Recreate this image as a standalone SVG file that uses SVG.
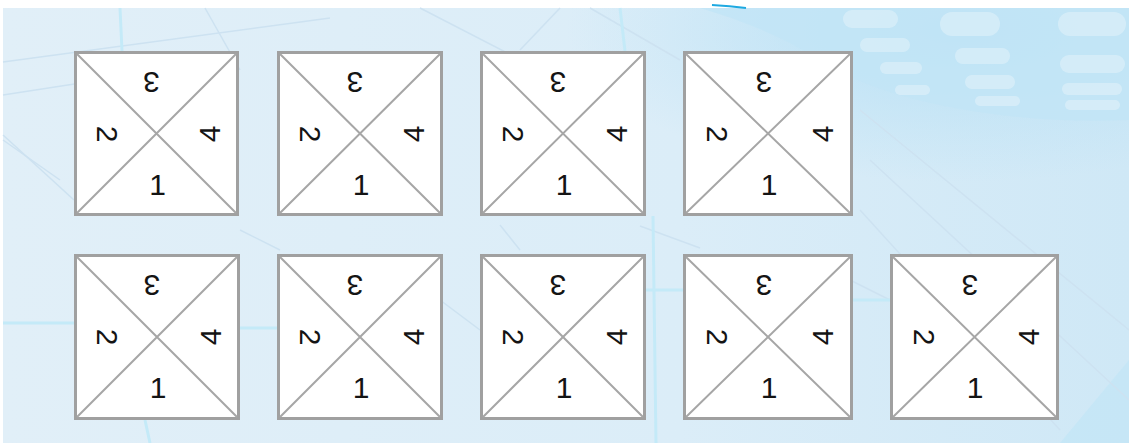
<svg xmlns="http://www.w3.org/2000/svg" width="1129" height="443" viewBox="0 0 1129 443">
  <defs>
    <linearGradient id="bg" x1="0" y1="0" x2="1" y2="0">
      <stop offset="0" stop-color="#e1eff8"/>
      <stop offset="0.6" stop-color="#dbedf8"/>
      <stop offset="1" stop-color="#cfe8f6"/>
    </linearGradient>
    <radialGradient id="glow" cx="0.85" cy="0.05" r="0.35">
      <stop offset="0" stop-color="#b9e1f5"/>
      <stop offset="1" stop-color="#b9e1f5" stop-opacity="0"/>
    </radialGradient>
    <style>
      .box{fill:#ffffff;stroke:#a0a0a0;stroke-width:3}
      .diag{stroke:#a6a6a6;stroke-width:2;fill:none}
      .num{font-family:"Liberation Sans",Arial,sans-serif;font-size:30px;fill:#141414;text-anchor:middle}
      .grid{stroke:#cde2f1;stroke-width:1.5;fill:none}
      .cyan{stroke:#c4eaf8;stroke-width:3;fill:none}
      .blob{fill:#ffffff;opacity:0.3}
    </style>
  </defs>

  <g id="background">
    <rect x="0" y="0" width="1129" height="443" fill="#ffffff"/>
    <rect x="3" y="8" width="1126" height="435" fill="url(#bg)"/>
    <rect x="3" y="8" width="1126" height="435" fill="url(#glow)"/>
    <path d="M700,8 L1129,8 L1129,120 C1000,125 880,100 820,60 C780,35 740,20 700,8 Z" fill="#c2e5f6" opacity="0.8"/>
    <path d="M1060,443 L1129,360 L1129,443 Z" fill="#c2e5f6" opacity="0.7"/>
    <g class="grid">
      <path d="M3,62 L330,18"/>
      <path d="M3,95 L230,60"/>
      <path d="M205,8 L240,70"/>
      <path d="M420,8 L560,80"/>
      <path d="M590,8 L680,60"/>
      <path d="M3,140 L60,180"/>
      <path d="M3,135 L74,200"/>
      <path d="M240,230 L280,250"/>
      <path d="M440,300 L480,330"/>
      <path d="M860,110 L1129,330"/>
      <path d="M870,160 L1129,400"/>
      <path d="M860,210 L1060,430"/>
      <path d="M640,226 L700,248"/>
      <path d="M850,280 L890,300"/>
      <path d="M500,225 L520,250"/>
      <path d="M560,8 L520,50"/>
    </g>
    <g class="cyan">
      <path d="M120,8 L122,51"/>
      <path d="M145,420 L150,443"/>
      <path d="M3,323 L74,323"/>
      <path d="M240,328 L277,328"/>
      <path d="M646,290 L683,290"/>
      <path d="M653,216 L656,443"/>
      <path d="M853,300 L890,300"/>
      <path d="M620,8 L625,51"/>
    </g>
    <g class="blob">
      <rect x="843" y="10" width="55" height="18" rx="9"/>
      <rect x="860" y="38" width="50" height="14" rx="7"/>
      <rect x="880" y="62" width="42" height="12" rx="6"/>
      <rect x="895" y="85" width="35" height="10" rx="5"/>
      <rect x="940" y="12" width="60" height="24" rx="12"/>
      <rect x="955" y="48" width="55" height="16" rx="8"/>
      <rect x="965" y="75" width="50" height="14" rx="7"/>
      <rect x="975" y="96" width="45" height="10" rx="5"/>
      <rect x="1058" y="12" width="68" height="24" rx="12"/>
      <rect x="1060" y="55" width="65" height="18" rx="9"/>
      <rect x="1062" y="83" width="60" height="12" rx="6"/>
      <rect x="1065" y="100" width="55" height="10" rx="5"/>
    </g>
    <path d="M712,5 Q730,6 746,8" stroke="#1ea9e1" stroke-width="2" fill="none"/>
  </g>

  <g id="connectors"></g>

  <g id="tile-1">
    <rect class="box" x="75.5" y="52.5" width="162" height="162"/>
    <path class="diag" d="M77,54 L236,213 M236,54 L77,213"/>
    <text class="num" transform="translate(151.5,83) rotate(180)" y="10.8">3</text>
    <text class="num" transform="translate(108,134) rotate(90)" y="10.8">2</text>
    <text class="num" transform="translate(209.5,134) rotate(-90)" y="10.8">4</text>
    <text class="num" x="157.5" y="195">1</text>
  </g>
  <g id="tile-2">
    <rect class="box" x="278.5" y="52.5" width="163" height="162"/>
    <path class="diag" d="M280,54 L440,213 M440,54 L280,213"/>
    <text class="num" transform="translate(355,83) rotate(180)" y="10.8">3</text>
    <text class="num" transform="translate(311,134) rotate(90)" y="10.8">2</text>
    <text class="num" transform="translate(413,134) rotate(-90)" y="10.8">4</text>
    <text class="num" x="361" y="195">1</text>
  </g>
  <g id="tile-3">
    <rect class="box" x="481.5" y="52.5" width="163" height="162"/>
    <path class="diag" d="M483,54 L643,213 M643,54 L483,213"/>
    <text class="num" transform="translate(558,83) rotate(180)" y="10.8">3</text>
    <text class="num" transform="translate(514,134) rotate(90)" y="10.8">2</text>
    <text class="num" transform="translate(616,134) rotate(-90)" y="10.8">4</text>
    <text class="num" x="564" y="195">1</text>
  </g>
  <g id="tile-4">
    <rect class="box" x="684.5" y="52.5" width="167" height="162"/>
    <path class="diag" d="M686,54 L850,213 M850,54 L686,213"/>
    <text class="num" transform="translate(764,83) rotate(180)" y="10.8">3</text>
    <text class="num" transform="translate(717.5,134) rotate(90)" y="10.8">2</text>
    <text class="num" transform="translate(822,134) rotate(-90)" y="10.8">4</text>
    <text class="num" x="769" y="195">1</text>
  </g>

  <g id="tile-5">
    <rect class="box" x="75.5" y="255.5" width="163" height="163"/>
    <path class="diag" d="M77,257 L237,417 M237,257 L77,417"/>
    <text class="num" transform="translate(152,286) rotate(180)" y="10.8">3</text>
    <text class="num" transform="translate(108,337) rotate(90)" y="10.8">2</text>
    <text class="num" transform="translate(210,337) rotate(-90)" y="10.8">4</text>
    <text class="num" x="158" y="398">1</text>
  </g>
  <g id="tile-6">
    <rect class="box" x="278.5" y="255.5" width="163" height="163"/>
    <path class="diag" d="M280,257 L440,417 M440,257 L280,417"/>
    <text class="num" transform="translate(355,286) rotate(180)" y="10.8">3</text>
    <text class="num" transform="translate(311,337) rotate(90)" y="10.8">2</text>
    <text class="num" transform="translate(413,337) rotate(-90)" y="10.8">4</text>
    <text class="num" x="361" y="398">1</text>
  </g>
  <g id="tile-7">
    <rect class="box" x="481.5" y="255.5" width="163" height="163"/>
    <path class="diag" d="M483,257 L643,417 M643,257 L483,417"/>
    <text class="num" transform="translate(558,286) rotate(180)" y="10.8">3</text>
    <text class="num" transform="translate(514,337) rotate(90)" y="10.8">2</text>
    <text class="num" transform="translate(616,337) rotate(-90)" y="10.8">4</text>
    <text class="num" x="564" y="398">1</text>
  </g>
  <g id="tile-8">
    <rect class="box" x="684.5" y="255.5" width="167" height="163"/>
    <path class="diag" d="M686,257 L850,417 M850,257 L686,417"/>
    <text class="num" transform="translate(764,286) rotate(180)" y="10.8">3</text>
    <text class="num" transform="translate(717.5,337) rotate(90)" y="10.8">2</text>
    <text class="num" transform="translate(822,337) rotate(-90)" y="10.8">4</text>
    <text class="num" x="769" y="398">1</text>
  </g>
  <g id="tile-9">
    <rect class="box" x="891.5" y="255.5" width="166" height="163"/>
    <path class="diag" d="M893,257 L1056,417 M1056,257 L893,417"/>
    <text class="num" transform="translate(970,286) rotate(180)" y="10.8">3</text>
    <text class="num" transform="translate(925,337) rotate(90)" y="10.8">2</text>
    <text class="num" transform="translate(1028,337) rotate(-90)" y="10.8">4</text>
    <text class="num" x="975" y="398">1</text>
  </g>
</svg>
